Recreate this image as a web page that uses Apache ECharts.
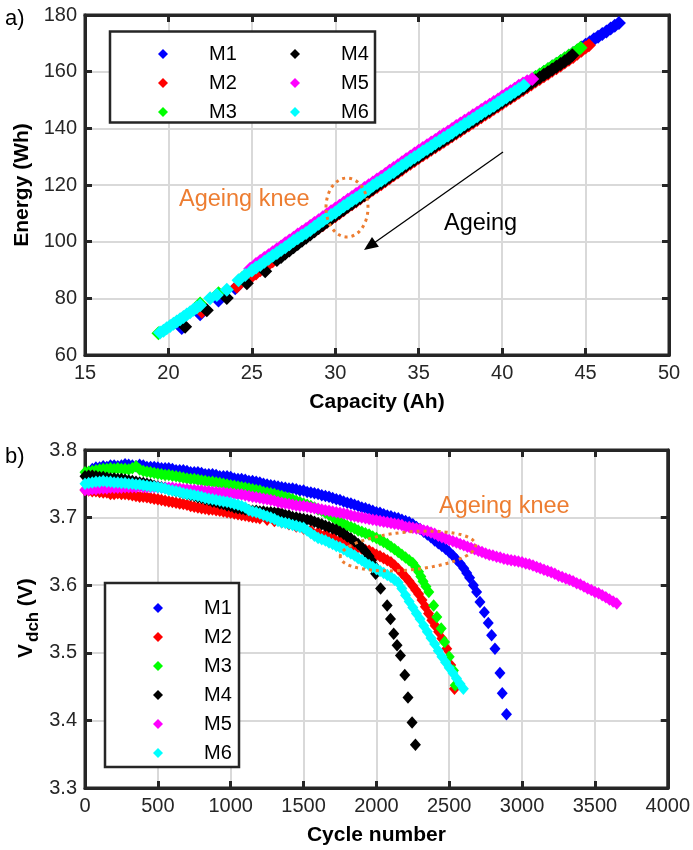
<!DOCTYPE html>
<html>
<head>
<meta charset="utf-8">
<script src="https://cdn.jsdelivr.net/npm/echarts@6/dist/echarts.min.js"></script>
<style>
  html, body { margin: 0; padding: 0; background: #ffffff; }
  #chart { width: 693px; height: 850px; }
</style>
</head>
<body>
<div id="chart"></div>
<script>
// ---------- a) Energy (Wh) versus capacity (Ah), one [capacity, energy] pair per point ----------
const capEnergyM1 = [[20.8,69.5],[21.9,74.4],[23.0,79.2],[24.0,83.6],[25.0,88.4],
  [25.5,92.1],[25.75,93.1],[26.0,94.1],[26.25,95.2],[26.5,96.2],[26.75,97.2],[27.0,98.3],[27.25,99.3],[27.5,100.3],
  [27.75,101.4],[28.0,102.4],[28.25,103.4],[28.5,104.4],[28.75,105.5],[29.0,106.5],[29.25,107.5],[29.5,108.6],
  [29.75,109.6],[30.0,110.6],[30.25,111.6],[30.5,112.6],[30.75,113.7],[31.0,114.7],[31.25,115.7],[31.5,116.7],
  [31.75,117.8],[32.0,118.8],[32.25,119.8],[32.5,120.8],[32.75,121.8],[33.0,122.8],[33.25,123.9],[33.5,124.9],
  [33.75,125.9],[34.0,126.9],[34.25,128.0],[34.5,129.0],[34.75,130.0],[35.0,131.0],[35.25,132.0],[35.5,132.9],
  [35.75,133.9],[36.0,134.8],[36.25,135.8],[36.5,136.8],[36.75,137.7],[37.0,138.7],[37.25,139.7],[37.5,140.6],
  [37.75,141.6],[38.0,142.5],[38.25,143.5],[38.5,144.4],[38.75,145.4],[39.0,146.4],[39.25,147.3],[39.5,148.3],
  [39.75,149.2],[40.0,150.2],[40.25,151.2],[40.5,152.1],[40.75,153.1],[41.0,154.1],[41.25,155.0],[41.5,156.0],
  [41.75,157.0],[42.0,158.0],[42.25,158.9],[42.5,159.9],[42.75,160.8],[43.0,161.8],[43.25,162.7],[43.5,163.7],
  [43.75,164.6],[44.0,165.6],[44.25,166.5],[44.5,167.5],[44.75,168.5],[45.0,169.5],[45.25,170.4],[45.5,171.4],
  [45.75,172.3],[46.0,173.3],[46.25,174.2],[46.5,175.2],[46.75,176.2],[47.0,177.2]];
const capEnergyM2 = [[22.0,75.3],[24.1,84.1],
  [25.0,87.8],[25.25,88.8],[25.5,89.9],[25.75,90.9],[26.0,92.0],[26.25,93.1],[26.5,94.2],[26.75,95.3],[27.0,96.4],
  [27.25,97.4],[27.5,98.5],[27.75,99.5],[28.0,100.6],[28.25,101.6],[28.5,102.7],[28.75,103.7],[29.0,104.8],
  [29.25,105.8],[29.5,106.9],[29.75,108.0],[30.0,109.0],[30.25,110.0],[30.5,111.1],[30.75,112.2],[31.0,113.2],
  [31.25,114.2],[31.5,115.2],[31.75,116.3],[32.0,117.3],[32.25,118.3],[32.5,119.3],[32.75,120.3],[33.0,121.3],
  [33.25,122.4],[33.5,123.4],[33.75,124.4],[34.0,125.4],[34.25,126.5],[34.5,127.5],[34.75,128.5],[35.0,129.5],
  [35.25,130.5],[35.5,131.4],[35.75,132.4],[36.0,133.3],[36.25,134.3],[36.5,135.3],[36.75,136.2],[37.0,137.2],
  [37.25,138.2],[37.5,139.1],[37.75,140.1],[38.0,141.0],[38.25,142.0],[38.5,142.9],[38.75,143.9],[39.0,144.9],
  [39.25,145.8],[39.5,146.8],[39.75,147.7],[40.0,148.7],[40.25,149.7],[40.5,150.6],[40.75,151.6],[41.0,152.6],
  [41.25,153.5],[41.5,154.5],[41.75,155.5],[42.0,156.5],[42.25,157.4],[42.5,158.4],[42.75,159.3],[43.0,160.3],
  [43.25,161.2],[43.5,162.2],[43.75,163.2],[44.0,164.2],[44.25,165.2],[44.5,166.3],[44.75,167.4],[45.0,168.5],
  [45.2,169.3]];
const capEnergyM3 = [[19.4,67.7],[21.9,78.2],[23.0,81.8],[24.4,87.1],
  [25.0,90.1],[25.25,91.1],[25.5,92.2],[25.75,93.2],[26.0,94.2],[26.25,95.3],[26.5,96.3],[26.75,97.3],[27.0,98.4],
  [27.25,99.4],[27.5,100.4],[27.75,101.5],[28.0,102.5],[28.25,103.5],[28.5,104.5],[28.75,105.6],[29.0,106.6],
  [29.25,107.6],[29.5,108.7],[29.75,109.7],[30.0,110.7],[30.25,111.7],[30.5,112.7],[30.75,113.8],[31.0,114.8],
  [31.25,115.8],[31.5,116.8],[31.75,117.9],[32.0,118.9],[32.25,119.9],[32.5,120.9],[32.75,121.9],[33.0,122.9],
  [33.25,124.0],[33.5,125.0],[33.75,126.0],[34.0,127.0],[34.25,128.1],[34.5,129.1],[34.75,130.1],[35.0,131.1],
  [35.25,132.1],[35.5,133.0],[35.75,134.0],[36.0,134.9],[36.25,135.9],[36.5,136.9],[36.75,137.8],[37.0,138.8],
  [37.25,139.8],[37.5,140.7],[37.75,141.7],[38.0,142.6],[38.25,143.6],[38.5,144.5],[38.75,145.5],[39.0,146.5],
  [39.25,147.4],[39.5,148.4],[39.75,149.3],[40.0,150.3],[40.25,151.3],[40.5,152.2],[40.75,153.2],[41.0,154.2],
  [41.25,155.1],[41.5,156.1],[41.75,157.1],[42.0,158.1],[42.25,159.0],[42.5,160.0],[42.75,160.9],[43.0,161.9],
  [43.25,162.8],[43.5,163.8],[43.75,164.7],[44.0,165.7],[44.25,166.6],[44.5,167.6],[44.7,168.4]];
const capEnergyM4 = [[21.0,70.0],[22.3,75.8],[23.5,80.1],[24.7,85.3],[25.8,89.6],
  [26.5,93.5],[26.75,94.6],[27.0,95.8],[27.25,96.9],[27.5,98.0],[27.75,99.2],[28.0,100.3],[28.25,101.4],[28.5,102.5],
  [28.75,103.7],[29.0,104.8],[29.25,105.9],[29.5,107.0],[29.75,108.1],[30.0,109.2],[30.25,110.3],[30.5,111.3],
  [30.75,112.4],[31.0,113.4],[31.25,114.4],[31.5,115.5],[31.75,116.5],[32.0,117.6],[32.25,118.6],[32.5,119.7],
  [32.75,120.7],[33.0,121.7],[33.25,122.8],[33.5,123.8],[33.75,124.8],[34.0,125.8],[34.25,126.9],[34.5,127.9],
  [34.75,128.9],[35.0,129.9],[35.25,130.9],[35.5,131.8],[35.75,132.8],[36.0,133.8],[36.25,134.7],[36.5,135.7],
  [36.75,136.7],[37.0,137.6],[37.25,138.6],[37.5,139.6],[37.75,140.5],[38.0,141.5],[38.25,142.4],[38.5,143.4],
  [38.75,144.4],[39.0,145.4],[39.25,146.3],[39.5,147.3],[39.75,148.2],[40.0,149.2],[40.25,150.2],[40.5,151.1],
  [40.75,152.1],[41.0,153.1],[41.25,154.0],[41.5,155.0],[41.75,156.0],[42.0,157.0],[42.25,157.9],[42.5,158.9],
  [42.75,159.8],[43.0,160.8],[43.25,161.7],[43.5,162.7],[43.75,163.7],[44.0,164.7],[44.2,165.8]];
const capEnergyM5 = [[24.9,90.4],[25.25,92.1],[25.5,93.2],[25.75,94.2],[26.0,95.2],[26.25,96.3],[26.5,97.3],
  [26.75,98.3],[27.0,99.4],[27.25,100.4],[27.5,101.4],[27.75,102.5],[28.0,103.5],[28.25,104.5],[28.5,105.5],
  [28.75,106.6],[29.0,107.6],[29.25,108.6],[29.5,109.7],[29.75,110.7],[30.0,111.7],[30.25,112.7],[30.5,113.7],
  [30.75,114.8],[31.0,115.8],[31.25,116.8],[31.5,117.8],[31.75,118.9],[32.0,119.9],[32.25,120.9],[32.5,121.9],
  [32.75,122.9],[33.0,123.9],[33.25,125.0],[33.5,126.0],[33.75,127.0],[34.0,128.0],[34.25,129.1],[34.5,130.1],
  [34.75,131.1],[35.0,132.1],[35.25,133.1],[35.5,134.0],[35.75,135.0],[36.0,135.9],[36.25,136.9],[36.5,137.9],
  [36.75,138.8],[37.0,139.8],[37.25,140.8],[37.5,141.7],[37.75,142.7],[38.0,143.6],[38.25,144.6],[38.5,145.5],
  [38.75,146.5],[39.0,147.4],[39.25,148.3],[39.5,149.3],[39.75,150.2],[40.0,151.2],[40.25,152.1],[40.5,153.1],
  [40.75,154.0],[41.0,155.0],[41.25,155.8],[41.5,156.6],[41.8,157.4]];
const capEnergyM6 = [[19.5,67.9],[19.7,68.6],[19.9,69.4],[20.1,70.2],[20.3,71.0],[20.5,71.8],[20.7,72.6],[20.9,73.4],
  [21.1,74.3],[21.3,75.1],[21.5,76.0],[21.7,76.8],[21.9,77.6],[22.5,80.0],[22.9,81.2],[23.5,83.0],[24.2,86.4],[24.6,88.2],
  [25.0,89.8],[25.25,90.9],[25.5,91.8],[25.75,92.9],[26.0,94.0],[26.25,95.0],[26.5,96.0],[26.75,97.1],[27.0,98.0],
  [27.25,99.1],[27.5,100.2],[27.75,101.2],[28.0,102.2],[28.25,103.1],[28.5,104.1],[28.75,105.3],[29.0,106.3],
  [29.25,107.4],[29.5,108.4],[29.75,109.4],[30.0,110.3],[30.25,111.4],[30.5,112.5],[30.75,113.5],[31.0,114.5],
  [31.25,115.4],[31.5,116.4],[31.75,117.6],[32.0,118.6],[32.25,119.7],[32.5,120.7],[32.75,121.6],[33.0,122.6],
  [33.25,123.7],[33.5,124.6],[33.75,125.7],[34.0,126.8],[34.25,127.8],[34.5,128.8],[34.75,129.8],[35.0,130.7],
  [35.25,131.8],[35.5,132.7],[35.75,133.7],[36.0,134.7],[36.25,135.6],[36.5,136.6],[36.75,137.5],[37.0,138.4],
  [37.25,139.5],[37.5,140.4],[37.75,141.4],[38.0,142.3],[38.25,143.3],[38.5,144.3],[38.75,145.2],[39.0,146.2],
  [39.25,147.1],[39.5,148.0],[39.75,149.0],[40.0,150.0],[40.25,151.0],[40.5,151.9],[40.75,152.9],[41.0,153.9],
  [41.3,155.1]];

// ---------- b) Mean discharge voltage (V) versus cycle number, one [cycle, voltage] pair per point ----------
const cycleVdchM1 = [[50,3.772],[75,3.774],[100,3.774],[125,3.776],[150,3.775],[175,3.777],[200,3.777],[225,3.776],
  [250,3.777],[275,3.779],[300,3.778],[325,3.777],[350,3.776],[375,3.778],[400,3.777],[425,3.775],[450,3.775],[475,3.775],
  [500,3.774],[525,3.773],[550,3.773],[575,3.773],[600,3.772],[625,3.770],[650,3.770],[675,3.770],[700,3.769],[725,3.767],
  [750,3.767],[775,3.767],[800,3.766],[825,3.764],[850,3.764],[875,3.764],[900,3.763],[925,3.761],[950,3.761],[975,3.761],
  [1000,3.760],[1025,3.758],[1050,3.757],[1075,3.757],[1100,3.756],[1125,3.754],[1150,3.754],[1175,3.753],[1200,3.752],
  [1225,3.750],[1250,3.749],[1275,3.748],[1300,3.747],[1325,3.746],[1350,3.745],[1375,3.744],[1400,3.743],[1425,3.743],
  [1450,3.742],[1475,3.740],[1500,3.740],[1525,3.738],[1550,3.737],[1575,3.736],[1600,3.735],[1625,3.733],[1650,3.732],
  [1675,3.731],[1700,3.729],[1725,3.727],[1750,3.726],[1775,3.724],[1800,3.722],[1825,3.721],[1850,3.719],[1875,3.717],
  [1900,3.715],[1925,3.714],[1950,3.712],[1975,3.710],[2000,3.708],[2025,3.707],[2050,3.705],[2075,3.703],[2100,3.702],
  [2125,3.700],[2150,3.699],[2175,3.697],[2200,3.695],[2225,3.693],[2250,3.690],[2275,3.686],[2300,3.683],[2325,3.679],
  [2350,3.675],[2375,3.671],[2400,3.666],[2425,3.662],[2450,3.658],[2475,3.654],[2500,3.649],[2525,3.644],[2550,3.638],
  [2575,3.632],[2600,3.625],[2620,3.618],[2640,3.611],[2666,3.600],[2688,3.590],[2711,3.575],[2741,3.560],[2768,3.544],
  [2791,3.526],[2814,3.506],[2848,3.470],[2864,3.440],[2893,3.409]];
const cycleVdchM2 = [[0,3.741],[25,3.740],[50,3.739],[75,3.739],[100,3.738],[125,3.737],[150,3.737],[175,3.735],
  [200,3.735],[225,3.736],[250,3.735],[275,3.735],[300,3.734],[325,3.733],[350,3.732],[375,3.731],[400,3.731],[425,3.730],
  [450,3.729],[475,3.728],[500,3.727],[525,3.726],[550,3.725],[575,3.724],[600,3.723],[625,3.722],[650,3.721],[675,3.720],
  [700,3.719],[725,3.717],[750,3.716],[775,3.715],[800,3.714],[825,3.713],[850,3.712],[875,3.712],[900,3.711],[925,3.710],
  [950,3.709],[975,3.708],[1000,3.707],[1025,3.706],[1050,3.705],[1075,3.704],[1100,3.703],[1125,3.702],[1150,3.701],
  [1175,3.700],[1200,3.699],[1250,3.697],[1300,3.695],[1350,3.693],[1400,3.690],[1450,3.687],[1500,3.684],[1550,3.681],
  [1600,3.678],[1650,3.675],[1700,3.671],[1750,3.667],[1800,3.663],[1825,3.661],[1850,3.658],[1875,3.656],[1900,3.654],
  [1925,3.652],[1950,3.651],[1975,3.648],[2000,3.645],[2025,3.643],[2050,3.640],[2075,3.637],[2100,3.634],[2125,3.629],
  [2150,3.624],[2175,3.618],[2200,3.612],[2225,3.606],[2250,3.599],[2270,3.593],[2290,3.587],[2313,3.578],[2336,3.568],
  [2358,3.558],[2381,3.548],[2404,3.540],[2427,3.531],[2450,3.521],[2483,3.506],[2510,3.482],[2536,3.447]];
const cycleVdchM3 = [[0,3.767],[25,3.768],[50,3.769],[75,3.770],[100,3.771],[125,3.772],[150,3.772],[175,3.773],
  [200,3.772],[225,3.773],[250,3.772],[275,3.772],[300,3.771],[325,3.773],[350,3.776],[375,3.771],[400,3.769],[425,3.768],
  [450,3.767],[475,3.766],[500,3.765],[525,3.764],[550,3.763],[575,3.763],[600,3.762],[625,3.761],[650,3.760],[675,3.759],
  [700,3.758],[725,3.757],[750,3.757],[775,3.756],[800,3.755],[825,3.754],[850,3.753],[875,3.753],[900,3.752],[925,3.751],
  [950,3.750],[975,3.749],[1000,3.748],[1025,3.747],[1050,3.746],[1075,3.745],[1100,3.744],[1125,3.743],[1150,3.742],
  [1175,3.741],[1200,3.740],[1225,3.738],[1250,3.737],[1275,3.736],[1300,3.735],[1325,3.733],[1350,3.732],[1375,3.730],
  [1400,3.729],[1425,3.727],[1450,3.725],[1475,3.723],[1500,3.721],[1525,3.719],[1550,3.717],[1575,3.715],[1600,3.712],
  [1625,3.710],[1650,3.707],[1675,3.704],[1700,3.701],[1725,3.697],[1750,3.694],[1775,3.691],[1800,3.688],[1825,3.686],
  [1850,3.684],[1875,3.681],[1900,3.679],[1925,3.677],[1950,3.675],[1975,3.672],[2000,3.670],[2025,3.667],[2050,3.664],
  [2075,3.661],[2100,3.657],[2125,3.653],[2150,3.649],[2175,3.645],[2200,3.641],[2225,3.637],[2250,3.633],[2270,3.627],
  [2290,3.620],[2305,3.613],[2320,3.606],[2340,3.598],[2360,3.590],[2393,3.570],[2415,3.553],[2445,3.536],[2468,3.516],
  [2500,3.494],[2529,3.474],[2541,3.452]];
const cycleVdchM4 = [[0,3.761],[25,3.762],[50,3.762],[75,3.761],[100,3.760],[125,3.760],[150,3.759],[175,3.758],
  [200,3.758],[225,3.757],[250,3.757],[275,3.756],[300,3.755],[325,3.754],[350,3.753],[375,3.752],[400,3.751],[425,3.750],
  [450,3.749],[475,3.747],[500,3.746],[525,3.745],[550,3.744],[575,3.742],[600,3.741],[625,3.739],[650,3.738],[675,3.736],
  [700,3.735],[725,3.733],[750,3.732],[775,3.730],[800,3.729],[825,3.727],[850,3.726],[875,3.724],[900,3.723],[925,3.721],
  [950,3.720],[975,3.718],[1000,3.717],[1025,3.715],[1050,3.714],[1075,3.713],[1100,3.712],[1125,3.711],[1150,3.710],
  [1175,3.710],[1200,3.709],[1225,3.709],[1250,3.708],[1275,3.708],[1300,3.707],[1325,3.707],[1350,3.706],[1375,3.704],
  [1400,3.703],[1425,3.701],[1450,3.700],[1475,3.699],[1500,3.698],[1525,3.697],[1550,3.696],[1575,3.694],[1600,3.692],
  [1625,3.690],[1650,3.688],[1675,3.686],[1700,3.684],[1725,3.682],[1750,3.679],[1775,3.676],[1800,3.672],[1825,3.669],
  [1850,3.665],[1875,3.661],[1900,3.656],[1925,3.650],[1950,3.643],[1965,3.637],[1980,3.630],[1995,3.617],[2029,3.595],
  [2074,3.570],[2097,3.550],[2119,3.528],[2142,3.511],[2165,3.496],[2195,3.467],[2217,3.434],[2245,3.397],[2268,3.364]];
const cycleVdchM5 = [[0,3.741],[25,3.741],[50,3.742],[75,3.742],[100,3.743],[125,3.743],[150,3.743],[175,3.744],
  [200,3.744],[225,3.744],[250,3.744],[275,3.745],[300,3.745],[325,3.745],[350,3.745],[375,3.746],[400,3.745],[425,3.745],
  [450,3.745],[475,3.745],[500,3.745],[525,3.744],[550,3.744],[575,3.744],[600,3.744],[625,3.743],[650,3.743],[675,3.742],
  [700,3.742],[725,3.741],[750,3.741],[775,3.740],[800,3.740],[825,3.739],[850,3.739],[875,3.738],[900,3.738],[925,3.737],
  [950,3.737],[975,3.736],[1000,3.736],[1025,3.735],[1050,3.734],[1075,3.734],[1100,3.733],[1125,3.732],[1150,3.731],
  [1175,3.730],[1200,3.729],[1225,3.728],[1250,3.727],[1275,3.726],[1300,3.725],[1325,3.723],[1350,3.722],[1375,3.721],
  [1400,3.720],[1425,3.719],[1450,3.718],[1475,3.717],[1500,3.717],[1525,3.716],[1550,3.715],[1575,3.714],[1600,3.713],
  [1625,3.712],[1650,3.711],[1675,3.710],[1700,3.709],[1725,3.708],[1750,3.707],[1775,3.706],[1800,3.705],[1825,3.703],
  [1850,3.702],[1875,3.701],[1900,3.700],[1925,3.699],[1950,3.698],[1975,3.697],[2000,3.696],[2025,3.695],[2050,3.694],
  [2075,3.693],[2100,3.692],[2125,3.691],[2150,3.690],[2175,3.689],[2200,3.686],[2225,3.686],[2250,3.685],[2275,3.684],
  [2300,3.683],[2325,3.681],[2350,3.680],[2375,3.678],[2400,3.676],[2425,3.673],[2450,3.671],[2475,3.669],[2500,3.667],
  [2525,3.665],[2550,3.663],[2575,3.661],[2600,3.659],[2625,3.657],[2650,3.655],[2675,3.653],[2700,3.651],[2725,3.649],
  [2750,3.647],[2775,3.645],[2800,3.644],[2825,3.642],[2850,3.641],[2875,3.639],[2900,3.638],[2925,3.637],[2950,3.636],
  [2975,3.635],[3000,3.634],[3025,3.632],[3050,3.631],[3075,3.629],[3100,3.627],[3125,3.625],[3150,3.623],[3175,3.621],
  [3200,3.619],[3225,3.617],[3250,3.614],[3275,3.612],[3300,3.610],[3325,3.608],[3350,3.606],[3375,3.603],[3400,3.601],
  [3425,3.598],[3450,3.595],[3475,3.593],[3500,3.590],[3525,3.588],[3550,3.585],[3575,3.582],[3600,3.579],[3625,3.576],
  [3650,3.573]];
const cycleVdchM6 = [[0,3.750],[25,3.751],[50,3.752],[75,3.753],[100,3.753],[125,3.754],[150,3.753],[175,3.753],
  [200,3.752],[225,3.752],[250,3.751],[275,3.751],[300,3.750],[325,3.750],[350,3.749],[375,3.749],[400,3.748],[425,3.747],
  [450,3.746],[475,3.746],[500,3.745],[525,3.744],[550,3.743],[575,3.741],[600,3.740],[625,3.739],[650,3.738],[675,3.736],
  [700,3.735],[725,3.734],[750,3.733],[775,3.732],[800,3.731],[825,3.729],[850,3.728],[875,3.727],[900,3.726],[925,3.725],
  [950,3.724],[975,3.723],[1000,3.722],[1025,3.720],[1050,3.719],[1075,3.717],[1100,3.715],[1125,3.711],[1150,3.709],
  [1175,3.708],[1200,3.706],[1225,3.704],[1250,3.702],[1275,3.700],[1300,3.698],[1325,3.695],[1350,3.693],[1375,3.692],
  [1400,3.691],[1425,3.689],[1450,3.688],[1475,3.686],[1500,3.685],[1525,3.681],[1550,3.677],[1575,3.673],[1600,3.670],
  [1625,3.668],[1650,3.666],[1675,3.663],[1700,3.661],[1725,3.658],[1750,3.656],[1775,3.653],[1800,3.650],[1825,3.647],
  [1850,3.644],[1875,3.640],[1900,3.637],[1925,3.633],[1950,3.630],[1975,3.627],[2000,3.624],[2025,3.621],[2050,3.618],
  [2075,3.615],[2100,3.612],[2125,3.608],[2150,3.604],[2175,3.595],[2200,3.585],[2225,3.576],[2250,3.567],[2275,3.558],
  [2300,3.550],[2325,3.540],[2350,3.531],[2375,3.522],[2400,3.513],[2425,3.503],[2450,3.494],[2475,3.486],[2500,3.478],
  [2525,3.470],[2550,3.462],[2575,3.454],[2597,3.447]];

const seriesNames = ['M1', 'M2', 'M3', 'M4', 'M5', 'M6'];
const seriesColors = ['#0000ff', '#ff0000', '#00ff00', '#000000', '#ff00ff', '#00ffff'];
const panelAData = [capEnergyM1, capEnergyM2, capEnergyM3, capEnergyM4, capEnergyM5, capEnergyM6];
const panelBData = [cycleVdchM1, cycleVdchM2, cycleVdchM3, cycleVdchM4, cycleVdchM5, cycleVdchM6];

const FONT = 'Liberation Sans, Arial, Helvetica, sans-serif';
const AXIS_COLOR = '#262626';
const ORANGE = '#ed7d31';

// Axis drawn only for its frame line and inward ticks (top / right sides of each box).
function frameAxis(extra) {
  return Object.assign({
    type: 'value',
    axisLine: { show: true, onZero: false, lineStyle: { color: AXIS_COLOR, width: 3 } },
    axisTick: { show: true, inside: true, length: 7, lineStyle: { color: AXIS_COLOR, width: 3 } },
    axisLabel: { show: false },
    splitLine: { show: false }
  }, extra);
}
// Labelled axis with grid lines (bottom / left sides).
function mainAxis(extra) {
  return frameAxis(Object.assign({
    axisLabel: { show: true, fontSize: 20, color: AXIS_COLOR, fontFamily: FONT, margin: 8, formatter: v => String(v) },
    splitLine: { show: true, lineStyle: { color: '#d9d9d9', width: 2 } },
    nameLocation: 'middle',
    nameTextStyle: { fontSize: 21, fontWeight: 'bold', color: '#000', fontFamily: FONT }
  }, extra));
}

const series = [];
seriesNames.forEach((n, i) => {
  series.push({
    type: 'scatter', name: n, xAxisIndex: 0, yAxisIndex: 0,
    data: panelAData[i], symbol: 'diamond', symbolSize: 14,
    itemStyle: { color: seriesColors[i], opacity: 1 }, silent: true
  });
});
seriesNames.forEach((n, i) => {
  series.push({
    type: 'scatter', name: n, xAxisIndex: 2, yAxisIndex: 2,
    data: panelBData[i], symbol: 'diamond', symbolSize: [11, 12.5],
    itemStyle: { color: seriesColors[i], opacity: 1 }, silent: true
  });
});

function legendBlock(names, left, top) {
  return {
    data: names, left: left, top: top, orient: 'vertical', z: 10,
    icon: 'diamond', itemWidth: 10, itemHeight: 10, itemGap: 9,
    selectedMode: false,
    textStyle: { fontSize: 20, lineHeight: 20, color: '#000', fontFamily: FONT, padding: [0, 0, 0, 36] }
  };
}

const boldName = { fontSize: 21, fontWeight: 'bold', fill: '#000', fontFamily: FONT, verticalAlign: 'middle', align: 'left' };

const option = {
  animation: false,
  backgroundColor: '#ffffff',
  grid: [
    { left: 85, top: 15, width: 584, height: 340, show: true, borderColor: AXIS_COLOR, borderWidth: 3, backgroundColor: 'transparent' },
    { left: 85, top: 450, width: 584, height: 338, show: true, borderColor: AXIS_COLOR, borderWidth: 3, backgroundColor: 'transparent' }
  ],
  xAxis: [
    mainAxis({ gridIndex: 0, min: 15, max: 50, interval: 5, name: 'Capacity (Ah)', nameGap: 37 }),
    frameAxis({ gridIndex: 0, min: 15, max: 50, interval: 5, position: 'top' }),
    mainAxis({ gridIndex: 1, min: 0, max: 4000, interval: 500, name: 'Cycle number', nameGap: 37 }),
    frameAxis({ gridIndex: 1, min: 0, max: 4000, interval: 500, position: 'top' })
  ],
  yAxis: [
    mainAxis({ gridIndex: 0, min: 60, max: 180, interval: 20, name: 'Energy (Wh)', nameGap: 48 }),
    frameAxis({ gridIndex: 0, min: 60, max: 180, interval: 20, position: 'right' }),
    mainAxis({
      gridIndex: 1, min: 3.3, max: 3.8, interval: 0.1,
      axisLabel: { show: true, fontSize: 20, color: AXIS_COLOR, fontFamily: FONT, margin: 8, formatter: v => v.toFixed(1) }
    }),
    frameAxis({ gridIndex: 1, min: 3.3, max: 3.8, interval: 0.1, position: 'right' })
  ],
  legend: [
    legendBlock(['M1', 'M2', 'M3'], 153, 39),
    legendBlock(['M4', 'M5', 'M6'], 285, 39),
    legendBlock(['M1', 'M2', 'M3', 'M4', 'M5', 'M6'], 148, 593)
  ],
  graphic: [
    // legend frames
    { type: 'rect', z: 5, shape: { x: 110, y: 31.5, width: 265, height: 91 },
      style: { fill: '#ffffff', stroke: AXIS_COLOR, lineWidth: 2.5 } },
    { type: 'rect', z: 5, shape: { x: 105, y: 583, width: 134, height: 184 },
      style: { fill: '#ffffff', stroke: AXIS_COLOR, lineWidth: 2.5 } },
    // y-axis title of panel b: V with subscript "dch", then the unit
    { type: 'text', z: 6, x: 26, y: 658, rotation: Math.PI / 2, style: Object.assign({ text: 'V' }, boldName) },
    { type: 'text', z: 6, x: 33, y: 642, rotation: Math.PI / 2, style: Object.assign({}, boldName, { text: 'dch', fontSize: 17 }) },
    { type: 'text', z: 6, x: 26, y: 612, rotation: Math.PI / 2, style: Object.assign({ text: ' (V)' }, boldName) },
    // panel letters
    { type: 'text', z: 6, x: 5, y: 19, style: { text: 'a)', fontSize: 22, fill: '#000', fontFamily: FONT, verticalAlign: 'middle' } },
    { type: 'text', z: 6, x: 5, y: 457, style: { text: 'b)', fontSize: 22, fill: '#000', fontFamily: FONT, verticalAlign: 'middle' } },
    // panel a annotations
    { type: 'text', z: 6, x: 179, y: 200, style: { text: 'Ageing knee', fontSize: 23.5, fill: ORANGE, fontFamily: FONT, verticalAlign: 'middle' } },
    { type: 'ellipse', z: 6, shape: { cx: 347, cy: 207.5, rx: 21, ry: 29.5 },
      style: { fill: 'none', stroke: ORANGE, lineWidth: 3, lineDash: [3, 4] } },
    { type: 'text', z: 6, x: 444, y: 224, style: { text: 'Ageing', fontSize: 23.5, fill: '#000', fontFamily: FONT, verticalAlign: 'middle' } },
    { type: 'line', z: 6, shape: { x1: 503, y1: 152, x2: 374, y2: 243 }, style: { stroke: '#000', lineWidth: 1.3 } },
    { type: 'polygon', z: 6, shape: { points: [[364, 250], [378.9, 246.8], [372.0, 237.0]] }, style: { fill: '#000' } },
    // panel b annotations
    { type: 'text', z: 6, x: 439, y: 507, style: { text: 'Ageing knee', fontSize: 23.5, fill: ORANGE, fontFamily: FONT, verticalAlign: 'middle' } },
    { type: 'ellipse', z: 6, shape: { cx: 0, cy: 0, rx: 68, ry: 19 }, x: 408, y: 551, rotation: 0.09,
      style: { fill: 'none', stroke: ORANGE, lineWidth: 3, lineDash: [3, 4] } }
  ],
  series: series
};

const chart = echarts.init(document.getElementById('chart'), null, { renderer: 'canvas' });
chart.setOption(option);
</script>
</body>
</html>
